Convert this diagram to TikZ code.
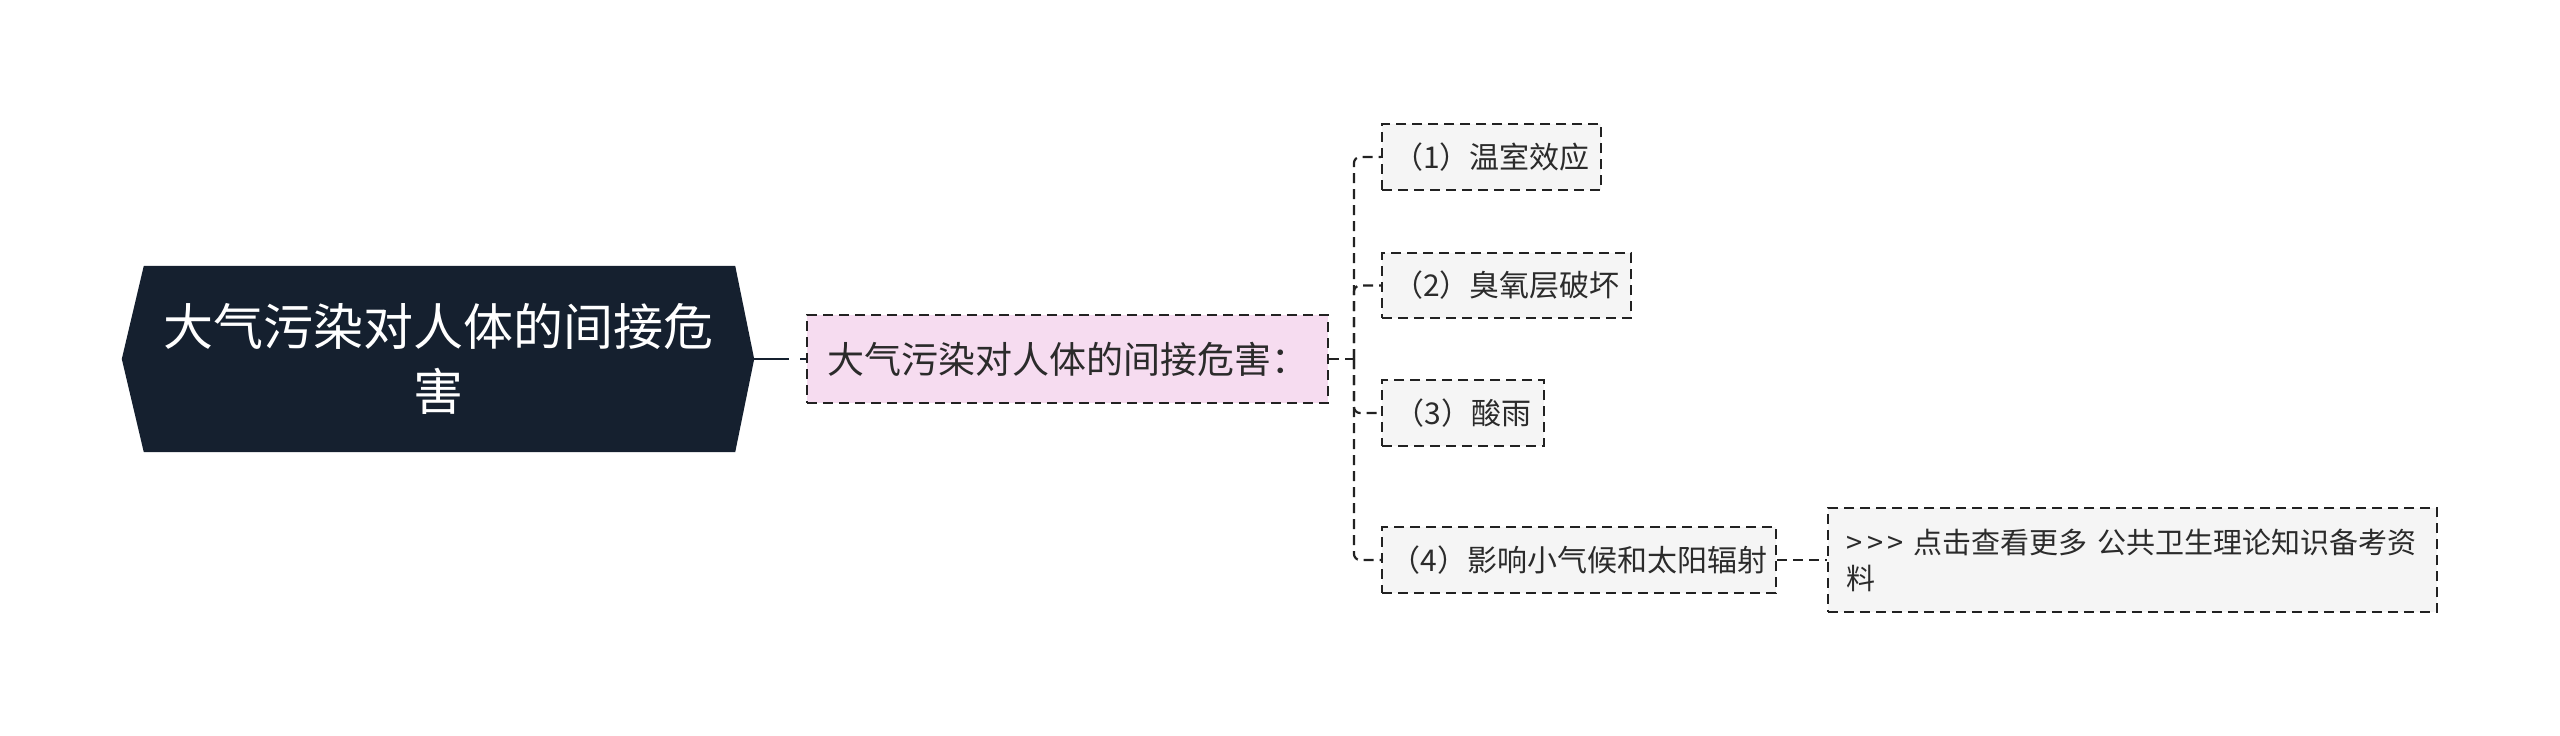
\documentclass[tikz,border=0pt]{standalone}
\usepackage{fontspec}
\setmainfont{Noto Sans CJK SC}
\usetikzlibrary{calc,backgrounds}
\definecolor{rootfill}{HTML}{15202F}
\definecolor{pinkfill}{HTML}{F6DCF0}
\definecolor{grayfill}{HTML}{F5F5F5}
\definecolor{linec}{HTML}{222222}
\definecolor{txt}{HTML}{2B2B2B}
\tikzset{
  dashbox/.style={draw=linec, line width=2.2pt, dash pattern=on 10pt off 6pt, inner sep=0pt, anchor=west, text=txt},
  pinkbox/.style={dashbox, fill=pinkfill, font=\fontsize{37}{44}\selectfont},
  subbox/.style={dashbox, fill=grayfill, font=\fontsize{30}{36}\selectfont},
  linkbox/.style={dashbox, fill=grayfill, font=\fontsize{29}{36}\selectfont, align=left, inner xsep=18pt, text width=573pt},
  rootnode/.style={inner sep=0pt, minimum width=632pt, minimum height=186pt, text=white, align=center, font=\fontsize{50}{65}\selectfont},
  conn/.style={draw=linec, line width=2.2pt, dash pattern=on 10pt off 6pt, rounded corners=6pt},
  rootconn/.style={draw=rootfill, line width=2.8pt, dash pattern=on 35pt off 11pt on 20pt off 1pt},
}
\begin{document}
\begin{tikzpicture}[x=1pt,y=-1pt]
\useasboundingbox (0,0) rectangle (2560,736);
\node[rootnode] (root) at (438,359) {大气污染对人体的间接危\\害};
\begin{scope}[on background layer]
\fill[rootfill] (root.west) -- ($(root.north west)+(22,0)$) -- ($(root.north east)+(-19,0)$) -- (root.east) -- ($(root.south east)+(-19,0)$) -- ($(root.south west)+(22,0)$) -- cycle;
\end{scope}
\node[pinkbox, minimum width=521pt, minimum height=88pt] (pink) at (806,359) {大气污染对人体的间接危害：};
\node[subbox, minimum width=219pt, minimum height=66pt] (c1) at (1381,157) {（1）温室效应};
\node[subbox, minimum width=249pt, minimum height=65pt] (c2) at (1381,285.5) {（2）臭氧层破坏};
\node[subbox, minimum width=162pt, minimum height=66pt] (c3) at (1381,413) {（3）酸雨};
\node[subbox, minimum width=394pt, minimum height=66pt] (c4) at (1381,560) {（4）影响小气候和太阳辐射};
\node[linkbox, minimum height=104pt] (link) at (1827,560) {{>}\,{>}\,{>} 点击查看更多 公共卫生理论知识备考资\\料};
\coordinate (j) at (1354,359);
\draw[rootconn] (root.east) -- (pink.west);
\draw[conn] (pink.east) -- (j);
\draw[conn] (j) |- (c1.west);
\draw[conn] (j) |- (c2.west);
\draw[conn] (j) |- (c3.west);
\draw[conn] (j) |- (c4.west);
\draw[conn] (c4.east) -- (link.west);
\end{tikzpicture}
\end{document}
